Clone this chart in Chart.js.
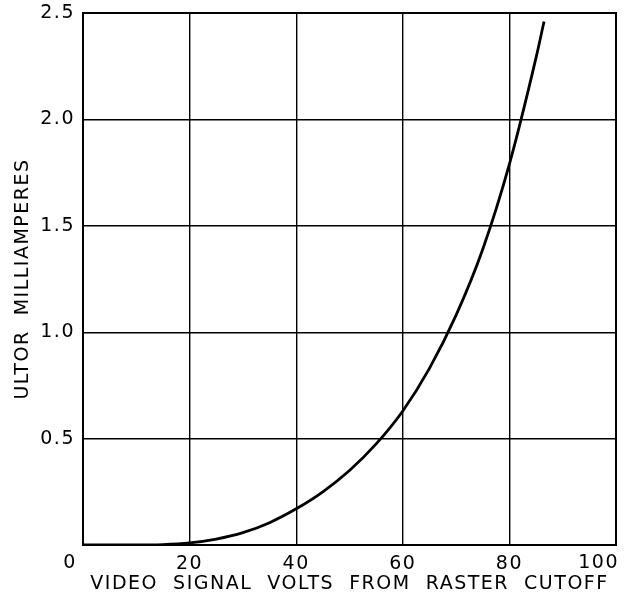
<!DOCTYPE html>
<html><head><meta charset="utf-8">
<script src="https://cdn.jsdelivr.net/npm/chart.js@4"></script>
<style>html,body{margin:0;padding:0;background:#fff}#wrap{width:631px;height:603px}</style>
</head><body><div id="wrap"><canvas id="c" width="631" height="603"></canvas></div>
<script>
const videoVolts = [0, 10, 15, 20, 25, 30, 35, 40, 45, 50, 55, 60, 65, 70, 75, 80, 85, 86.5];
const ultorMilliamps = [0, 0, 0.002, 0.01, 0.028, 0.058, 0.105, 0.17, 0.25, 0.35, 0.475, 0.63, 0.83, 1.08, 1.39, 1.79, 2.29, 2.46];
const xTicks = [0, 20, 40, 60, 80, 100];
const yTicks = [0, 0.5, 1.0, 1.5, 2.0, 2.5];
const xTitle = 'VIDEO  SIGNAL  VOLTS  FROM  RASTER  CUTOFF';
const yTitle = 'ULTOR  MILLIAMPERES';
const FONT = '"DejaVu Sans", sans-serif';

const spacing = {
  id: 'spacing',
  beforeDraw(chart) { chart.ctx.letterSpacing = '1.5px'; }
};

// corner labels ("0" at the origin, "100" tucked inside the right edge)
const cornerLabels = {
  id: 'cornerLabels',
  afterDraw(chart) {
    const {ctx, scales: {x, y}} = chart;
    ctx.save();
    ctx.letterSpacing = '1.5px';
    ctx.fillStyle = '#000';
    ctx.font = '19px ' + FONT;
    ctx.textBaseline = 'middle';
    ctx.textAlign = 'center';
    ctx.fillText(String(xTicks[0]), x.getPixelForValue(xTicks[0]) - 13, y.getPixelForValue(0) + 18);
    ctx.textAlign = 'right';
    const last = xTicks[xTicks.length - 1];
    ctx.fillText(String(last), x.getPixelForValue(last) + 3, y.getPixelForValue(0) + 18);
    ctx.restore();
  }
};

new Chart(document.getElementById('c'), {
  type: 'line',
  data: {
    datasets: [{
      data: videoVolts.map((v, i) => ({x: v, y: ultorMilliamps[i]})),
      borderColor: '#000',
      borderWidth: 2.8,
      pointRadius: 0,
      cubicInterpolationMode: 'monotone',
      fill: false
    }]
  },
  options: {
    responsive: false,
    animation: false,
    events: [],
    layout: {padding: {top: 13, right: 15, left: 0, bottom: 0}},
    plugins: {legend: {display: false}, tooltip: {enabled: false}},
    scales: {
      x: {
        type: 'linear', min: 0, max: 100,
        afterBuildTicks(s) { s.ticks = xTicks.map(v => ({value: v})); },
        afterFit(s) { s.height = 58; s.paddingLeft = 0; s.paddingRight = 0; },
        grid: {color: '#000', lineWidth: 1.4, drawTicks: false},
        border: {color: '#000', width: 2},
        ticks: {color: '#000', padding: 8, font: {family: FONT, size: 19},
          callback: v => (v === xTicks[0] || v === xTicks[xTicks.length - 1]) ? '' : String(v)},
        title: {display: true, text: xTitle, color: '#000', font: {family: FONT, size: 19}, padding: {top: 0, bottom: 8}}
      },
      y: {
        type: 'linear', min: 0, max: 2.5,
        afterBuildTicks(s) { s.ticks = yTicks.map(v => ({value: v})); },
        afterFit(s) { s.width = 83; s.paddingTop = 0; s.paddingBottom = 0; },
        grid: {color: '#000', lineWidth: 1.4, drawTicks: false},
        border: {color: '#000', width: 2},
        ticks: {color: '#000', padding: 8, font: {family: FONT, size: 19},
          callback: v => v === 0 ? '' : v.toFixed(1)},
        title: {display: true, text: yTitle, color: '#000', font: {family: FONT, size: 19}, padding: {top: 12, bottom: 0}}
      }
    }
  },
  plugins: [spacing, cornerLabels, {
    id: 'frame',
    afterDraw(chart) {
      const {ctx, chartArea: a} = chart;
      ctx.save(); ctx.strokeStyle = '#000'; ctx.lineWidth = 2;
      ctx.strokeRect(a.left, a.top, a.right - a.left, a.bottom - a.top);
      ctx.restore();
    }
  }]
});
</script></body></html>
